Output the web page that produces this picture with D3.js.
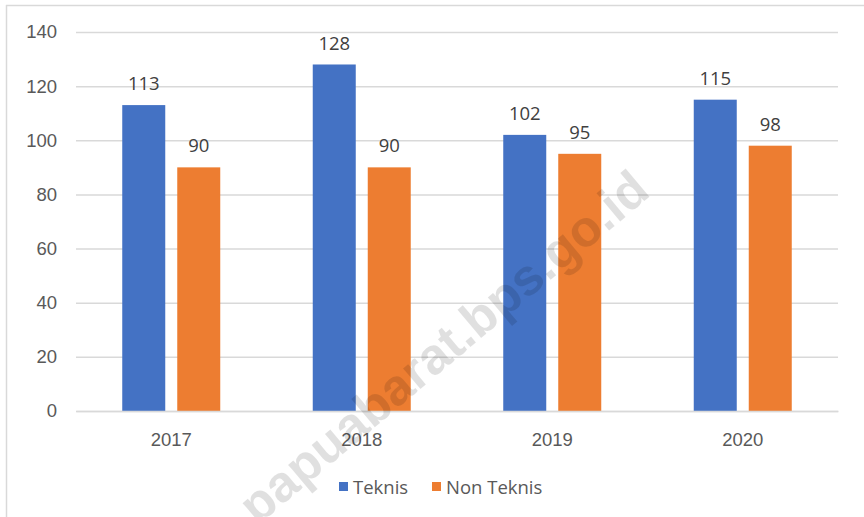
<!DOCTYPE html>
<html lang="en">
<head>
  <meta charset="UTF-8" />
  <title>Teknis vs Non Teknis</title>
  <style>
    body { margin: 0; background: #fff; }
    svg { display: block; font-family: "Open Sans", Lato, sans-serif; }
    .tick text { fill: #595959; font-size: 18.5px; }
    .val { fill: #404040; font-size: 18.5px; text-anchor: middle; }
    .legend text { fill: #595959; font-size: 18.5px; }
  </style>
</head>
<body>
  <svg width="864" height="517"></svg>

  <script src="https://d3js.org/d3.v7.min.js"></script>
  <script>
    const years = ["2017", "2018", "2019", "2020"];
    const seriesNames = ["Teknis", "Non Teknis"];
    const teknis = [113, 128, 102, 115];
    const nonTeknis = [90, 90, 95, 98];
    const yTicks = [0, 20, 40, 60, 80, 100, 120, 140];
    const colors = ["#4472C4", "#ED7D31"];

    const svg = d3.select("svg");
    const margin = { top: 32, right: 26, bottom: 106, left: 76 };
    const width = 864, height = 517;
    const innerW = width - margin.left - margin.right;
    const innerH = height - margin.top - margin.bottom;

    // chart border (only top and left edges are visible in the crop)
    svg.append("line").attr("x1", 6).attr("x2", width).attr("y1", 5.5).attr("y2", 5.5)
      .attr("stroke", "#d9d9d9").attr("stroke-width", 1.5);
    svg.append("line").attr("x1", 6.5).attr("x2", 6.5).attr("y1", 5).attr("y2", height)
      .attr("stroke", "#d9d9d9").attr("stroke-width", 1.5);

    const g = svg.append("g").attr("transform", `translate(${margin.left},${margin.top})`);

    const x = d3.scaleBand().domain(years).range([0, innerW]);
    const bw = 43, gap = 12;
    const xs = d3.scaleBand().domain(seriesNames)
      .range([(x.bandwidth() - 2 * bw - gap) / 2, (x.bandwidth() + 2 * bw + gap) / 2])
      .paddingInner(gap / (bw + gap));
    const y = d3.scaleLinear().domain([0, 140]).range([innerH, 0]);

    // gridlines + y axis
    const yAxis = g.append("g").call(d3.axisLeft(y).tickValues(yTicks).tickSize(-innerW).tickPadding(19));
    yAxis.select(".domain").remove();
    yAxis.selectAll(".tick line").attr("stroke", "#d9d9d9").attr("stroke-width", 1.5);

    // watermark
    svg.append("text")
      .attr("transform", "translate(446,350) rotate(-40)")
      .attr("text-anchor", "middle")
      .attr("dominant-baseline", "middle")
      .style("font-family", "'Liberation Sans', Arial, sans-serif")
      .style("font-weight", "bold")
      .style("font-size", "51px")
      .style("fill", "#000")
      .style("fill-opacity", 0.12)
      .text("papuabarat.bps.go.id");

    const data = years.map((yr, i) => ({ year: yr, values: [teknis[i], nonTeknis[i]] }));

    const groups = g.selectAll(".grp").data(data).join("g")
      .attr("class", "grp")
      .attr("transform", d => `translate(${x(d.year)},0)`);

    groups.selectAll("rect").data(d => d.values.map((v, k) => ({ name: seriesNames[k], v, k })))
      .join("rect")
      .attr("x", d => xs(d.name))
      .attr("width", xs.bandwidth())
      .attr("y", d => y(d.v))
      .attr("height", d => innerH - y(d.v))
      .attr("fill", d => colors[d.k]);

    groups.selectAll(".val").data(d => d.values.map((v, k) => ({ name: seriesNames[k], v })))
      .join("text")
      .attr("class", "val")
      .attr("x", d => xs(d.name) + xs.bandwidth() / 2)
      .attr("y", d => y(d.v) - 15)
      .text(d => d.v);

    // x axis labels
    const xAxis = g.append("g").attr("transform", `translate(0,${innerH})`)
      .call(d3.axisBottom(x).tickSize(0).tickPadding(22));
    xAxis.select(".domain").attr("stroke", "#d9d9d9").attr("stroke-width", 1.5);

    // legend
    const legend = svg.append("g").attr("class", "legend");
    const legendItems = [
      { name: seriesNames[0], x: 339 },
      { name: seriesNames[1], x: 432 }
    ];
    legendItems.forEach((d, i) => {
      legend.append("rect").attr("x", d.x).attr("y", 482).attr("width", 9).attr("height", 9)
        .attr("fill", colors[i]);
      legend.append("text").attr("x", d.x + 14).attr("y", 494).text(d.name);
    });
  </script>
</body>
</html>
